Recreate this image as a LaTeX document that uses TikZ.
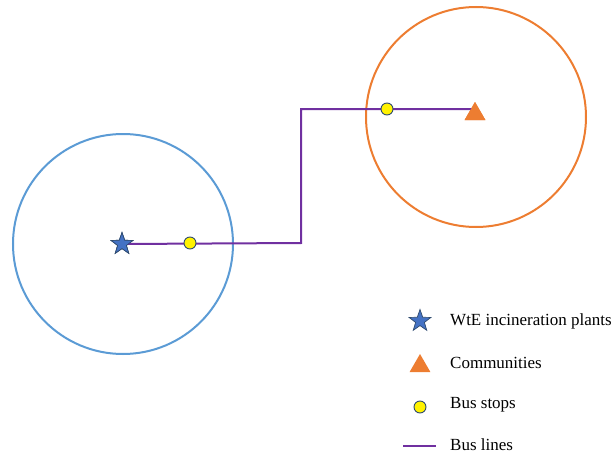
\documentclass[tikz,border=0pt]{standalone}
\usepackage{fontspec}
\setmainfont{Liberation Serif}
\usetikzlibrary{shapes.geometric}
\definecolor{cblue}{HTML}{5B9BD5}
\definecolor{corange}{HTML}{ED7D31}
\definecolor{cpurple}{HTML}{7030A0}
\definecolor{cstar}{HTML}{4472C4}
\definecolor{cedge}{HTML}{2F4B6E}
\tikzset{
  plant/.style={star, star points=5, star point ratio=2.5, minimum size=23pt, inner sep=0pt, fill=cstar, draw=cedge, line width=0.7pt},
  community/.style={regular polygon, regular polygon sides=3, minimum size=24pt, inner sep=0pt, fill=corange, draw=none},
  busstop/.style={circle, minimum size=12pt, inner sep=0pt, fill=yellow, draw=cedge, line width=0.9pt},
  busline/.style={cpurple, line width=2pt},
  zone/.style={line width=2pt},
  legtext/.style={anchor=west, font=\fontsize{17}{20}\selectfont, inner sep=0pt}
}
\begin{document}
\begin{tikzpicture}[x=1pt,y=-1pt]
\useasboundingbox (0,0) rectangle (614,455);
\draw[zone, cblue] (123,244) circle (110);
\draw[zone, corange] (476,117) circle (110);
\coordinate (c1) at (301,243);
\coordinate (c2) at (301,109);
\node[plant] (p1) at (122,244) {};
\node[community] (m1) at (475,114) {};
\draw[busline] (p1.center) -- (c1) -- (c2) -- (m1.center |- c2);
\node[plant] (p1b) at (122,244) {};
\node[community] (m1b) at (475,114) {};
\node[busstop] (s1) at (190,243) {};
\node[busstop] (s2) at (387,109) {};
% legend
\node[plant] (lp) at (420,321) {};
\node[legtext] (lt1) at (450,321) {WtE incineration plants};
\node[community] (lm) at (420,366) {};
\node[legtext] (lt2) at (450,363) {Communities};
\node[busstop] (ls) at (420,407) {};
\node[legtext] (lt3) at (450,405) {Bus stops};
\coordinate (la) at (403,446);
\coordinate (lb) at (436,446);
\draw[busline] (la) -- (lb);
\node[legtext] (lt4) at (450,445) {Bus lines};
\end{tikzpicture}
\end{document}
